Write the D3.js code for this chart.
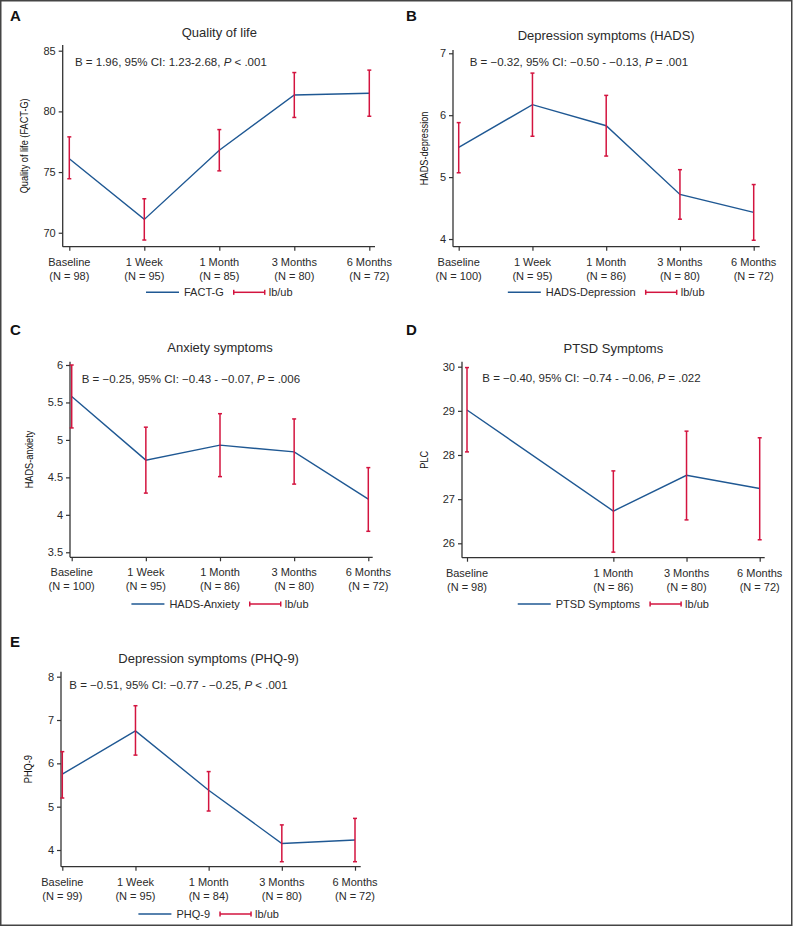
<!DOCTYPE html>
<html>
<head>
<meta charset="utf-8">
<script src="https://cdn.jsdelivr.net/npm/d3@7"></script>
<style>
  html, body { margin: 0; padding: 0; background: #fff; }
  svg { display: block; font-family: "Liberation Sans", Arial, Helvetica, sans-serif; }
</style>
</head>
<body>
<svg id="chart" width="793" height="927"></svg>
<script>
// ---------------- DATA ----------------
const timepoints = ["Baseline", "1 Week", "1 Month", "3 Months", "6 Months"];

// A: Quality of life (FACT-G)
const factgN    = [98, 95, 85, 80, 72];
const factgMean = [76.1, 71.1, 76.8, 81.35, 81.5];
const factgLb   = [74.45, 69.4, 75.1, 79.5, 79.6];
const factgUb   = [77.9, 72.8, 78.5, 83.2, 83.4];
const factgTicks = [70, 75, 80, 85];

// B: HADS depression
const hadsDepN    = [100, 95, 86, 80, 72];
const hadsDepMean = [5.48, 6.17, 5.83, 4.72, 4.43];
const hadsDepLb   = [5.07, 5.66, 5.34, 4.32, 3.98];
const hadsDepUb   = [5.88, 6.68, 6.32, 5.12, 4.88];
const hadsDepTicks = [4, 5, 6, 7];

// C: HADS anxiety
const hadsAnxN    = [100, 95, 86, 80, 72];
const hadsAnxMean = [5.58, 4.73, 4.93, 4.84, 4.21];
const hadsAnxLb   = [5.16, 4.29, 4.51, 4.41, 3.78];
const hadsAnxUb   = [6.0, 5.17, 5.35, 5.28, 4.63];
const hadsAnxTicks = [3.5, 4, 4.5, 5, 5.5, 6];

// D: PTSD symptoms (PLC) — no 1 Week measurement
const ptsdN    = [98, null, 86, 80, 72];
const ptsdMean = [29.02, null, 26.73, 27.54, 27.24];
const ptsdLb   = [28.07, null, 25.8, 26.53, 26.08];
const ptsdUb   = [29.98, null, 27.64, 28.54, 28.39];
const ptsdTicks = [26, 27, 28, 29, 30];

// E: PHQ-9
const phqN    = [99, 95, 84, 80, 72];
const phqMean = [5.75, 6.75, 5.38, 4.15, 4.23];
const phqLb   = [5.2, 6.19, 4.9, 3.73, 3.73];
const phqUb   = [6.27, 7.33, 5.81, 4.58, 4.73];
const phqTicks = [4, 5, 6, 7, 8];

const MINUS = "\u2212";

// ---------------- PANELS ----------------
const panels = [
  { letter: "A", title: "Quality of life", yLabel: "Quality of life (FACT-G)", legend: "FACT-G",
    n: factgN, mean: factgMean, lb: factgLb, ub: factgUb, ticks: factgTicks,
    annot: ["B = 1.96, 95% CI: 1.23-2.68, ", "P", " < .001"],
    lay: { lx: 10, ly: 21, titleY: 37, axisX: 62.7, top: 45, bottom: 246.7, right: 375,
           xFirst: 69.3, xLast: 369.3, yLabelX: 28, annX: 75, annY: 66.3, legY: 292.3,
           dom: [68.85, 85.47] } },
  { letter: "B", title: "Depression symptoms (HADS)", yLabel: "HADS-depression", legend: "HADS-Depression",
    n: hadsDepN, mean: hadsDepMean, lb: hadsDepLb, ub: hadsDepUb, ticks: hadsDepTicks,
    annot: ["B = " + MINUS + "0.32, 95% CI: " + MINUS + "0.50 - " + MINUS + "0.13, ", "P", " = .001"],
    lay: { lx: 406, ly: 21, titleY: 39.5, axisX: 453, top: 50, bottom: 246.7, right: 759.7,
           xFirst: 458.7, xLast: 753.7, yLabelX: 428, annX: 469.7, annY: 66.3, legY: 292.3,
           dom: [3.876, 7.053] } },
  { letter: "C", title: "Anxiety symptoms", yLabel: "HADS-anxiety", legend: "HADS-Anxiety",
    n: hadsAnxN, mean: hadsAnxMean, lb: hadsAnxLb, ub: hadsAnxUb, ticks: hadsAnxTicks,
    annot: ["B = " + MINUS + "0.25, 95% CI: " + MINUS + "0.43 - " + MINUS + "0.07, ", "P", " = .006"],
    lay: { lx: 10, ly: 335, titleY: 351.7, axisX: 70, top: 361.7, bottom: 557.3, right: 372.7,
           xFirst: 71.7, xLast: 368.3, yLabelX: 33, annX: 81.7, annY: 383.3, legY: 604,
           dom: [3.433, 6.044] } },
  { letter: "D", title: "PTSD Symptoms", yLabel: "PLC", legend: "PTSD Symptoms",
    n: ptsdN, mean: ptsdMean, lb: ptsdLb, ub: ptsdUb, ticks: ptsdTicks,
    annot: ["B = " + MINUS + "0.40, 95% CI: " + MINUS + "0.74 - " + MINUS + "0.06, ", "P", " = .022"],
    lay: { lx: 406, ly: 335, titleY: 353.3, axisX: 462, top: 361.7, bottom: 557.7, right: 764.7,
           xFirst: 467, xLast: 759.7, yLabelX: 428, annX: 482.3, annY: 382.3, legY: 604,
           dom: [25.674, 30.113] } },
  { letter: "E", title: "Depression symptoms (PHQ-9)", yLabel: "PHQ-9", legend: "PHQ-9",
    n: phqN, mean: phqMean, lb: phqLb, ub: phqUb, ticks: phqTicks,
    annot: ["B = " + MINUS + "0.51, 95% CI: " + MINUS + "0.77 - " + MINUS + "0.25, ", "P", " < .001"],
    lay: { lx: 10, ly: 647, titleY: 663.3, axisX: 61, top: 671.7, bottom: 866.7, right: 360.7,
           xFirst: 62.3, xLast: 355, yLabelX: 32, annX: 69.3, annY: 689, legY: 914,
           dom: [3.615, 8.115] } }
];

const BLUE = "#1f5893";
const RED = "#d3143f";
const AXIS = "#333";
const TXT = "#2a2a2a";

const svg = d3.select("#chart");

// outer frame
svg.append("rect")
  .attr("x", 0.75).attr("y", 0.75)
  .attr("width", 791).attr("height", 924.5)
  .attr("fill", "none").attr("stroke", "#444").attr("stroke-width", 1.5);

panels.forEach(p => {
  const L = p.lay;
  const g = svg.append("g");
  const x = d3.scalePoint().domain(timepoints).range([L.xFirst, L.xLast]);
  const y = d3.scaleLinear().domain(L.dom).range([L.bottom, L.top]);
  const cx = (L.xFirst + L.xLast) / 2;

  // panel letter
  g.append("text").attr("x", L.lx).attr("y", L.ly)
    .attr("font-size", 15).attr("font-weight", "bold").attr("fill", "#111")
    .text(p.letter);

  // title
  g.append("text").attr("x", cx).attr("y", L.titleY)
    .attr("text-anchor", "middle").attr("font-size", 13).attr("fill", TXT)
    .text(p.title);

  // y axis
  const yAxis = d3.axisLeft(y).tickValues(p.ticks).tickSize(4).tickPadding(3)
    .tickFormat(d3.format("~g"));
  const ya = g.append("g").attr("transform", `translate(${L.axisX},0)`).call(yAxis);
  ya.select(".domain").attr("stroke", AXIS).attr("stroke-width", 1.3)
    .attr("d", `M-0,${L.bottom}V${L.top}`);
  ya.selectAll(".tick line").attr("stroke", AXIS).attr("stroke-width", 1.2);
  ya.selectAll(".tick text").attr("font-size", 11).attr("fill", TXT)
    .attr("font-family", "'Liberation Sans', Arial, sans-serif");

  // x axis (only categories with data get ticks)
  const present = timepoints.filter((t, i) => p.mean[i] != null);
  const xAxis = d3.axisBottom(x).tickValues(present).tickSize(4).tickFormat("");
  const xa = g.append("g").attr("transform", `translate(0,${L.bottom})`).call(xAxis);
  xa.select(".domain").attr("stroke", AXIS).attr("stroke-width", 1.3)
    .attr("d", `M${L.axisX},0H${L.right}`);
  xa.selectAll(".tick line").attr("stroke", AXIS).attr("stroke-width", 1.2);

  // two-line tick labels
  timepoints.forEach((t, i) => {
    if (p.mean[i] == null) return;
    const tx = g.append("text").attr("text-anchor", "middle").attr("font-size", 11).attr("fill", TXT);
    tx.append("tspan").attr("x", x(t)).attr("y", L.bottom + 19).text(t);
    tx.append("tspan").attr("x", x(t)).attr("y", L.bottom + 33).text("(N = " + p.n[i] + ")");
  });

  // y label (condensed)
  g.append("text")
    .attr("transform", `translate(${L.yLabelX},${(L.top + L.bottom) / 2}) rotate(-90) scale(0.8,1)`)
    .attr("text-anchor", "middle").attr("font-size", 11.5).attr("fill", "#111")
    .attr("font-family", "'Liberation Sans', Arial, sans-serif")
    .text(p.yLabel);

  // data
  const pts = timepoints.map((t, i) => ({ t, m: p.mean[i], lo: p.lb[i], hi: p.ub[i] }))
    .filter(d => d.m != null);

  const line = d3.line().x(d => x(d.t)).y(d => y(d.m));
  g.append("path").datum(pts).attr("d", line)
    .attr("fill", "none").attr("stroke", BLUE).attr("stroke-width", 1.4);

  const eb = g.append("g").attr("stroke", RED).attr("stroke-width", 1.5);
  eb.selectAll("line.v").data(pts).join("line")
    .attr("x1", d => x(d.t)).attr("x2", d => x(d.t))
    .attr("y1", d => y(d.lo)).attr("y2", d => y(d.hi));
  eb.selectAll("line.lo").data(pts).join("line")
    .attr("x1", d => x(d.t) - 2).attr("x2", d => x(d.t) + 2)
    .attr("y1", d => y(d.lo)).attr("y2", d => y(d.lo));
  eb.selectAll("line.hi").data(pts).join("line")
    .attr("x1", d => x(d.t) - 2).attr("x2", d => x(d.t) + 2)
    .attr("y1", d => y(d.hi)).attr("y2", d => y(d.hi));

  // annotation
  const an = g.append("text").attr("x", L.annX).attr("y", L.annY)
    .attr("font-size", 11.5).attr("fill", TXT);
  an.append("tspan").text(p.annot[0]);
  an.append("tspan").attr("font-style", "italic").text(p.annot[1]);
  an.append("tspan").text(p.annot[2]);

  // legend
  const leg = g.append("g");
  const lineLen = 33, gap1 = 5, gap2 = 10, ebLen = 31, gap3 = 4;
  const t1 = leg.append("text").attr("font-size", 11).attr("fill", TXT)
    .attr("y", L.legY + 4).text(p.legend);
  const t2 = leg.append("text").attr("font-size", 11).attr("fill", TXT)
    .attr("y", L.legY + 4).text("lb/ub");
  const w1 = t1.node().getComputedTextLength();
  const w2 = t2.node().getComputedTextLength();
  const total = lineLen + gap1 + w1 + gap2 + ebLen + gap3 + w2;
  let sx = cx - total / 2;
  leg.append("line").attr("x1", sx).attr("x2", sx + lineLen)
    .attr("y1", L.legY).attr("y2", L.legY).attr("stroke", BLUE).attr("stroke-width", 1.4);
  sx += lineLen + gap1;
  t1.attr("x", sx);
  sx += w1 + gap2;
  const el = leg.append("g").attr("stroke", RED).attr("stroke-width", 1.5);
  el.append("line").attr("x1", sx).attr("x2", sx + ebLen).attr("y1", L.legY).attr("y2", L.legY);
  el.append("line").attr("x1", sx).attr("x2", sx).attr("y1", L.legY - 2.5).attr("y2", L.legY + 2.5);
  el.append("line").attr("x1", sx + ebLen).attr("x2", sx + ebLen).attr("y1", L.legY - 2.5).attr("y2", L.legY + 2.5);
  sx += ebLen + gap3;
  t2.attr("x", sx);
});
</script>
</body>
</html>
